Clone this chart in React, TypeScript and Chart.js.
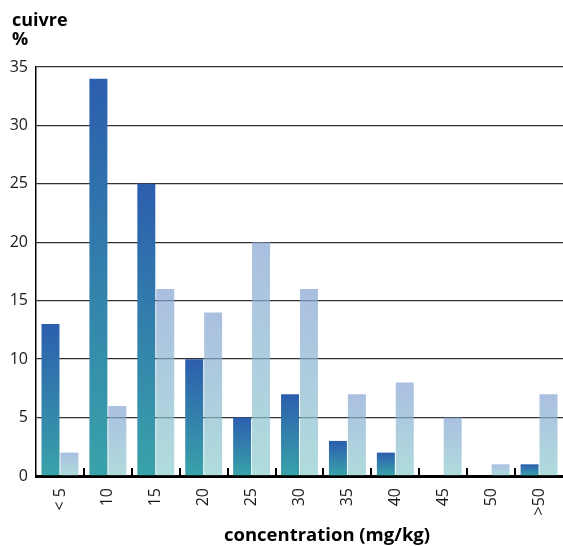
import React, { useEffect, useRef } from 'react';
import { Chart, registerables } from 'chart.js';
Chart.register(...registerables);

const categories = ['< 5', '10', '15', '20', '25', '30', '35', '40', '45', '50', '>50'];
const seriesA = [13, 34, 25, 10, 5, 7, 3, 2, 0, 0, 1];
const seriesB = [2, 6, 16, 14, 20, 16, 7, 8, 5, 1, 7];
const yMin = 0;
const yMax = 35;
const yStep = 5;
const yTitle = ['cuivre', '%'];
const xTitle = 'concentration (mg/kg)';

const FONT = "'Open Sans', sans-serif";

function grad(top: string, bottom: string) {
  return (ctx: any) => {
    const chart = ctx.chart;
    const y = chart.scales && chart.scales.y;
    if (!y || ctx.raw == null || !chart.chartArea) return top;
    const yTop = y.getPixelForValue(ctx.raw);
    const yBot = y.getPixelForValue(0);
    if (yBot - yTop < 1) return bottom;
    const g = chart.ctx.createLinearGradient(0, yTop, 0, yBot);
    g.addColorStop(0, top);
    g.addColorStop(1, bottom);
    return g;
  };
}

const decor = {
  id: 'decor',
  afterDatasetsDraw(chart: any) {
    const { ctx, chartArea } = chart;
    const n = categories.length;
    const w = (chartArea.right - chartArea.left) / n;
    ctx.save();
    ctx.strokeStyle = '#000';
    ctx.lineWidth = 2;
    for (let i = 1; i < n; i++) {
      const x = Math.round(chartArea.left + i * w);
      ctx.beginPath();
      ctx.moveTo(x, chartArea.bottom);
      ctx.lineTo(x, chartArea.bottom - 8);
      ctx.stroke();
    }
    ctx.restore();
  },
  afterDraw(chart: any) {
    const { ctx } = chart;
    ctx.save();
    ctx.fillStyle = '#000';
    ctx.font = `bold 18px ${FONT}`;
    ctx.textAlign = 'left';
    ctx.textBaseline = 'alphabetic';
    ctx.fillText(yTitle[0], 12, 26);
    ctx.fillText(yTitle[1], 12, 45);
    ctx.font = `bold 18.5px ${FONT}`;
    ctx.textAlign = 'center';
    ctx.fillText(xTitle, 327, 541);
    ctx.restore();
  },
};

export default function App() {
  const ref = useRef<HTMLCanvasElement>(null);
  useEffect(() => {
    if (!ref.current) return;
    const chart = new Chart(ref.current, {
      type: 'bar',
      data: {
        labels: categories,
        datasets: [
          {
            data: seriesA,
            backgroundColor: grad('#2c5eae', '#39a3a9'),
            categoryPercentage: 0.79,
            barPercentage: 0.95,
          },
          {
            data: seriesB,
            backgroundColor: grad('rgba(134,164,211,0.7)', 'rgba(142,205,206,0.7)'),
            categoryPercentage: 0.79,
            barPercentage: 0.95,
          },
        ],
      },
      options: {
        animation: false,
        responsive: true,
        maintainAspectRatio: false,
        layout: { padding: { top: 67, right: 0, bottom: 0, left: 0 } },
        plugins: { legend: { display: false }, tooltip: { enabled: false }, title: { display: false } },
        scales: {
          x: {
            grid: { display: false, drawTicks: false },
            border: { color: '#000', width: 3 },
            ticks: {
              font: { family: FONT, size: 16 },
              color: '#1a1a1a',
              minRotation: 90,
              maxRotation: 90,
              autoSkip: false,
              padding: 12,
            },
            afterFit: (s: any) => {
              s.height = 70;
              s.paddingLeft = 0;
              s.paddingRight = 0;
            },
          },
          y: {
            min: yMin,
            max: yMax,
            grid: { color: '#333', lineWidth: 1.3, drawTicks: false },
            border: { color: '#000', width: 1.5 },
            ticks: {
              stepSize: yStep,
              font: { family: FONT, size: 16 },
              color: '#1a1a1a',
              padding: 8,
            },
            afterFit: (s: any) => {
              s.width = 36;
              s.paddingTop = 0;
              s.paddingBottom = 0;
            },
          },
        },
      },
      plugins: [decor],
    });
    return () => chart.destroy();
  }, []);
  return (
    <div style={{ position: 'fixed', left: 0, top: 0, width: 563, height: 546, background: '#fff' }}>
      <canvas ref={ref} />
    </div>
  );
}
